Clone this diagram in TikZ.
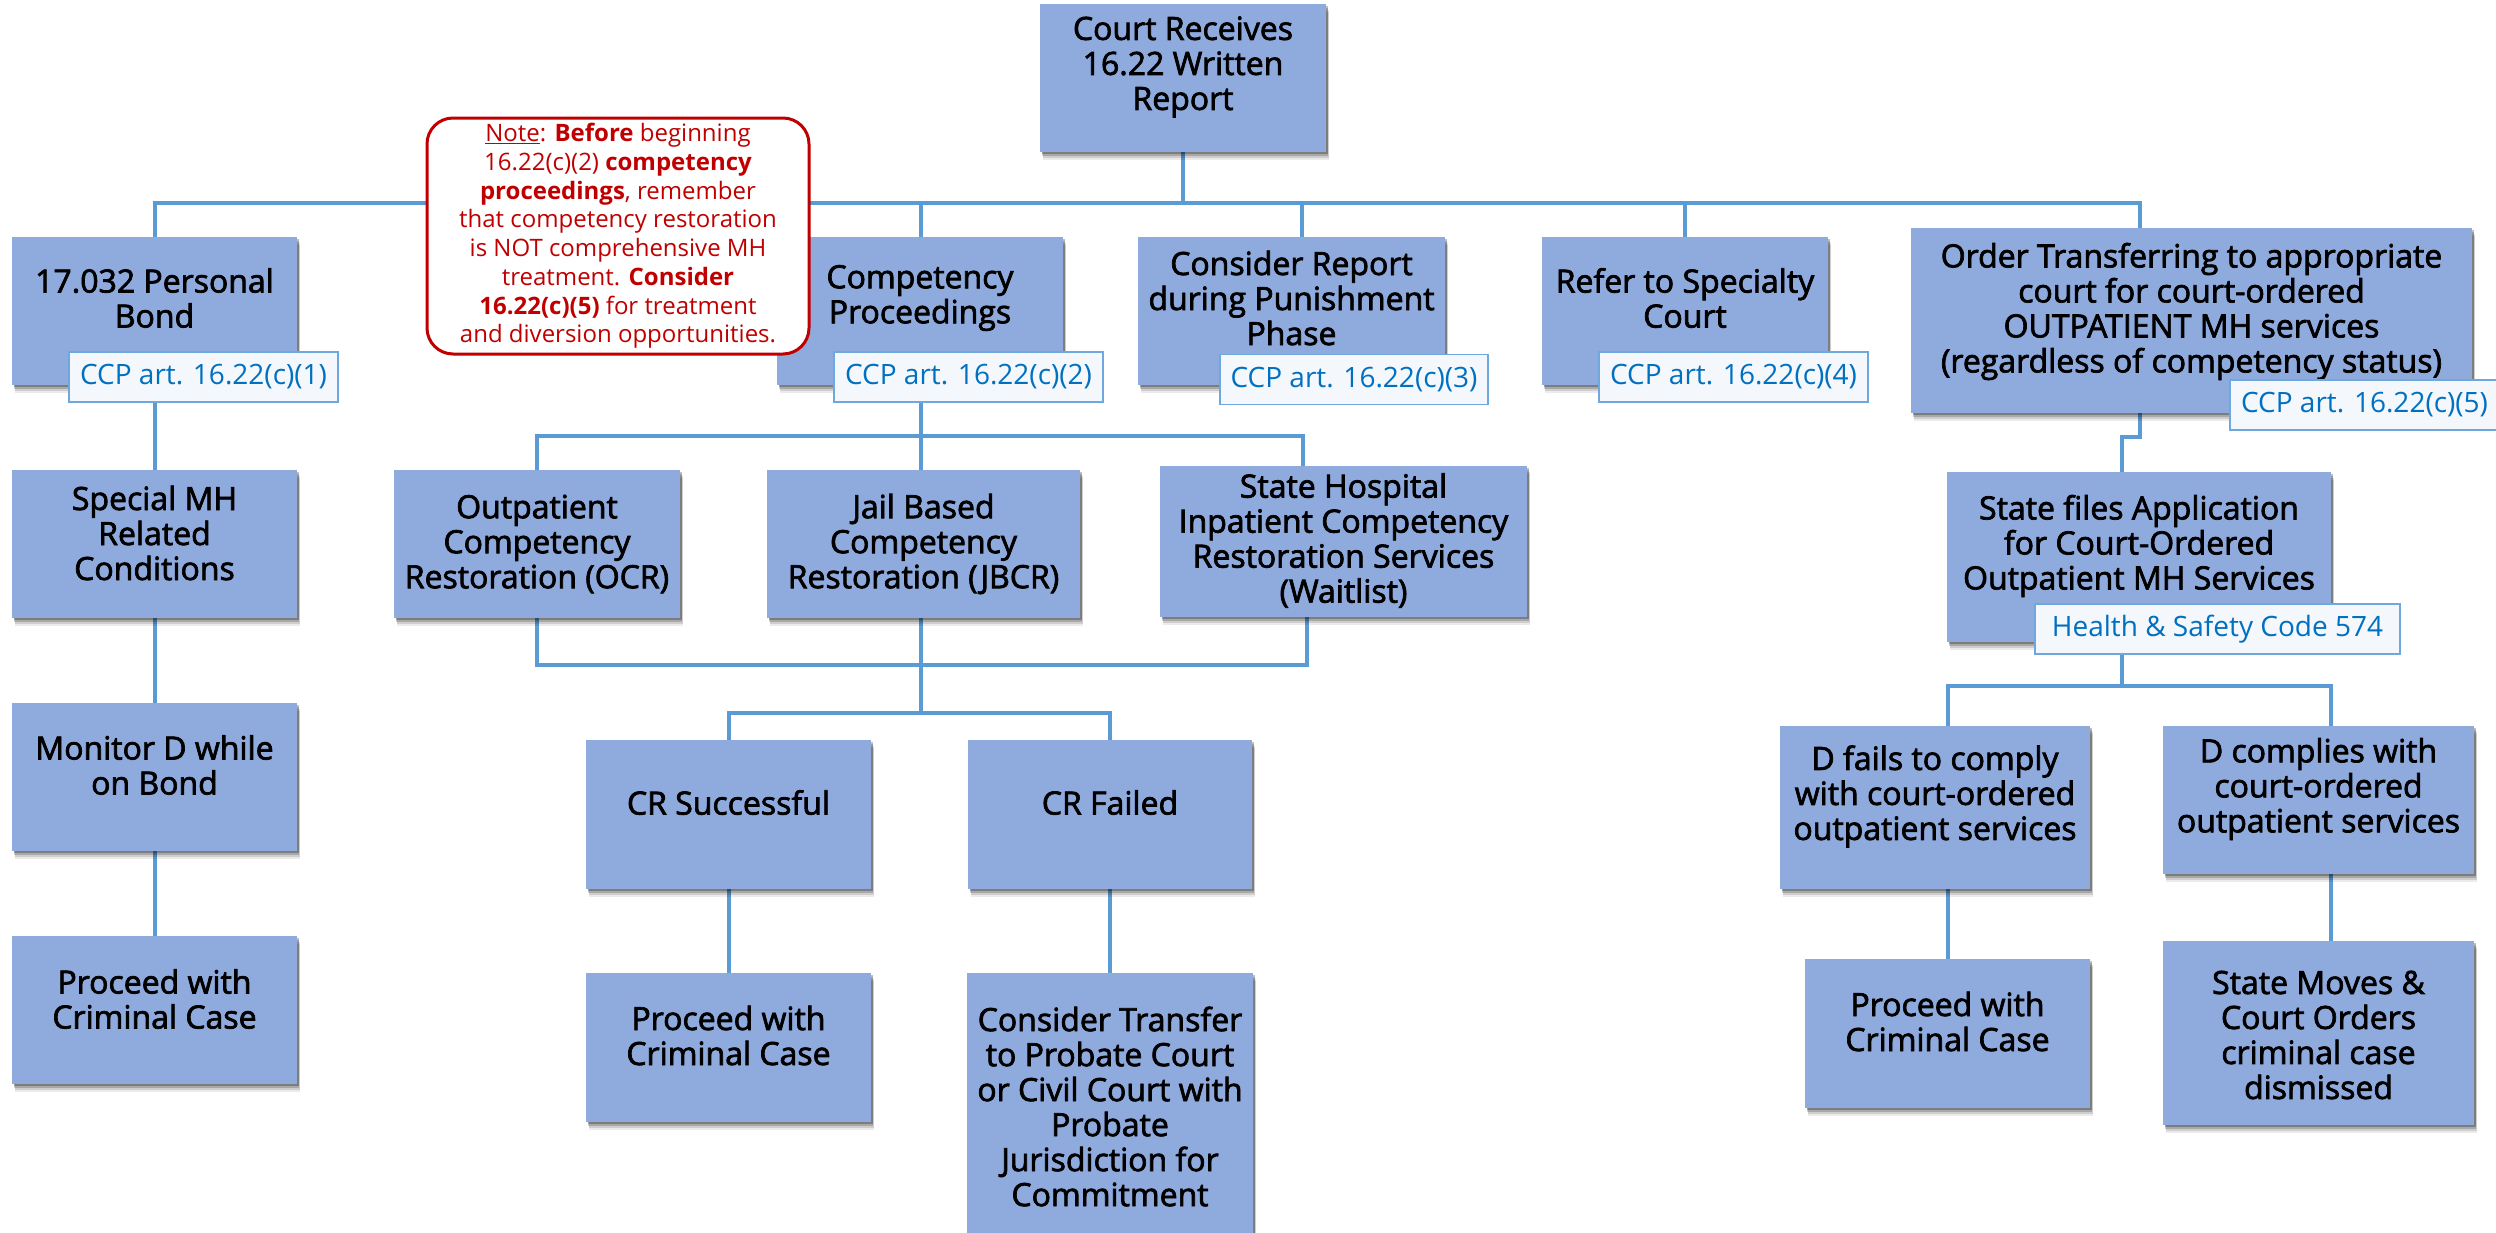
\documentclass[tikz,border=0pt]{standalone}
\usepackage{fontspec}
\setmainfont{Open Sans}
\newfontfamily\bxf{Open Sans}[FakeBold=2.2]
\usetikzlibrary{shadows}
\pgfdeclarelayer{bg}
\pgfsetlayers{bg,main}
\definecolor{boxblue}{HTML}{8FAADC}
\definecolor{linblue}{HTML}{5B9BD5}
\definecolor{lbltext}{HTML}{0070C0}
\definecolor{lblfill}{HTML}{F4F7FC}
\definecolor{lblborder}{HTML}{6FA8DC}
\definecolor{notered}{HTML}{C00000}
\tikzset{
  box/.style={fill=boxblue, draw=none, inner sep=0pt,
    general shadow={shadow xshift=3pt, shadow yshift=-8pt, fill=black, opacity=0.08},
    general shadow={shadow xshift=2.5pt, shadow yshift=-6pt, fill=black, opacity=0.12},
    general shadow={shadow xshift=2pt, shadow yshift=-4pt, fill=black, opacity=0.18},
    general shadow={shadow xshift=1.5pt, shadow yshift=-2pt, fill=black, opacity=0.25}},
  tx/.style={font=\bxf\fontsize{32}{35}\selectfont, align=center, inner sep=0pt, text=black},
  lbl/.style={draw=lblborder, line width=1.5pt, fill=lblfill, text=lbltext,
    font=\fontsize{28}{34}\selectfont, minimum height=50pt, inner sep=0pt},
  conn/.style={draw=linblue, line width=4pt},
  notebox/.style={draw=notered, line width=3pt, fill=white, rounded corners=26pt,
    text=notered, align=center, font=\fontsize{24}{28.7}\selectfont, inner sep=0pt}
}
\newcommand{\mybox}[7]{%
  \node[box, minimum width=#4pt, minimum height=#5pt] (#1) at (#2,#3) {};
  \node[tx] (#1t) at ([yshift=#6pt]#1.center) {#7};}
\begin{document}
\begin{tikzpicture}[x=1pt, y=-1pt]
\begin{pgfonlayer}{bg}
\fill[white] (0,0) rectangle (2496,1232);
\end{pgfonlayer}
\useasboundingbox (0,0) rectangle (2496,1232);

% top
\mybox{court}{1183}{78}{286}{148}{11}{Court Receives\\16.22 Written\\Report}
% level 1
\mybox{bond}{154.5}{311}{285}{148}{13}{17.032 Personal\\Bond}
\mybox{comp}{920}{311}{286}{148}{13}{Competency\\Proceedings}
\mybox{consid}{1291.5}{311}{307}{148}{13}{Consider Report\\during Punishment\\Phase}
\mybox{refer}{1685}{311}{286}{148}{13}{Refer to Specialty\\Court}
\mybox{order}{2191.5}{320.5}{561}{185}{9}{Order Transferring to appropriate\\court for court-ordered\\OUTPATIENT MH services\\(regardless of competency status)}
% left column
\mybox{special}{154.5}{544}{285}{148}{11}{Special MH\\Related\\Conditions}
\mybox{monitor}{154.5}{777}{285}{148}{12}{Monitor D while\\on Bond}
\mybox{proc1}{154.5}{1010}{285}{148}{11}{Proceed with\\Criminal Case}
% competency branch
\mybox{ocr}{537}{544}{286}{148}{0}{Outpatient\\Competency\\Restoration (OCR)}
\mybox{jbcr}{923.5}{544}{313}{148}{0}{Jail Based\\Competency\\Restoration (JBCR)}
\mybox{shosp}{1343.5}{541.5}{367}{151}{1}{State Hospital\\Inpatient Competency\\Restoration Services\\(Waitlist)}
\mybox{crs}{728.5}{814.5}{285}{149}{12}{CR Successful}
\mybox{crf}{1110}{814.5}{284}{149}{12}{CR Failed}
\mybox{proc2}{728.5}{1047.5}{285}{149}{12}{Proceed with\\Criminal Case}
\mybox{ctrans}{1110}{1106.5}{286}{267}{0}{Consider Transfer\\to Probate Court\\or Civil Court with\\Probate\\Jurisdiction for\\Commitment}
% right branch
\mybox{sfiles}{2139}{557}{384}{170}{11}{State files Application\\for Court-Ordered\\Outpatient MH Services}
\mybox{dfail}{1935}{807.5}{310}{163}{11}{D fails to comply\\with court-ordered\\outpatient services}
\mybox{dcomp}{2318.5}{800}{311}{148}{11}{D complies with\\court-ordered\\outpatient services}
\mybox{proc3}{1947.5}{1033.5}{285}{149}{12}{Proceed with\\Criminal Case}
\mybox{smoves}{2318.5}{1033}{311}{184}{-2}{State Moves \&\\Court Orders\\criminal case\\dismissed}

% connectors
\begin{pgfonlayer}{bg}
\draw[conn] (court.south) -- ++(0,51) coordinate (b1);
\draw[conn] (bond.north) |- (b1);
\draw[conn] ([xshift=-51.5pt]order.north) |- (b1);
\draw[conn] ([xshift=1pt]comp.north) |- (b1);
\draw[conn] ([xshift=10.5pt]consid.north) |- (b1);
\draw[conn] (refer.north) |- (b1);

\draw[conn] (bond.south) -- (special.north);
\draw[conn] (special.south) -- (monitor.north);
\draw[conn] (monitor.south) -- (proc1.north);

\draw[conn] ([xshift=1pt]comp.south) -- ++(0,51) coordinate (b2);
\draw[conn] (ocr.north) |- (b2);
\draw[conn] ([xshift=-40.5pt]shosp.north) |- (b2);
\draw[conn] ([xshift=-2.5pt]jbcr.north) -- (b2);

\draw[conn] ([xshift=-2.5pt]jbcr.south) -- ++(0,47) coordinate (b3);
\draw[conn] (ocr.south) |- (b3);
\draw[conn] ([xshift=-36.5pt]shosp.south) |- (b3);
\draw[conn] (b3) -- ++(0,48) coordinate (b4);
\draw[conn] (crs.north) |- (b4);
\draw[conn] (crf.north) |- (b4);
\draw[conn] (crs.south) -- (proc2.north);
\draw[conn] (crf.south) -- (ctrans.north);

\draw[conn] ([xshift=-51.5pt]order.south) -- ++(0,24) -| ([xshift=-17pt]sfiles.north);
\draw[conn] ([xshift=-17pt]sfiles.south) -- ++(0,44) coordinate (b5);
\draw[conn] ([xshift=13pt]dfail.north) |- (b5);
\draw[conn] ([xshift=12.5pt]dcomp.north) |- (b5);
\draw[conn] ([xshift=13pt]dfail.south) -- ([xshift=0.5pt]proc3.north);
\draw[conn] ([xshift=12.5pt]dcomp.south) -- ([xshift=12.5pt]smoves.north);
\end{pgfonlayer}

% labels
\node[lbl, minimum width=269pt] (l1) at (203.5,377) {CCP art. 16.22(c)(1)};
\node[lbl, minimum width=269pt] (l2) at (968.5,377) {CCP art. 16.22(c)(2)};
\node[lbl, minimum width=268pt] (l3) at (1354,379.5) {CCP art. 16.22(c)(3)};
\node[lbl, minimum width=269pt] (l4) at (1733.5,377) {CCP art. 16.22(c)(4)};
\node[lbl, minimum width=269pt] (l5) at (2364.5,405) {CCP art. 16.22(c)(5)};
\node[lbl, minimum width=365pt] (l6) at (2217.5,629) {Health \& Safety Code 574};

% note
\node[notebox, minimum width=382pt, minimum height=236pt] (note) at (618,236)
{\underline{Note}: \textbf{Before} beginning\\
16.22(c)(2) \textbf{competency}\\
\textbf{proceedings}, remember\\
that competency restoration\\
is NOT comprehensive MH\\
treatment. \textbf{Consider}\\
\textbf{16.22(c)(5)} for treatment\\
and diversion opportunities.};
\end{tikzpicture}
\end{document}
